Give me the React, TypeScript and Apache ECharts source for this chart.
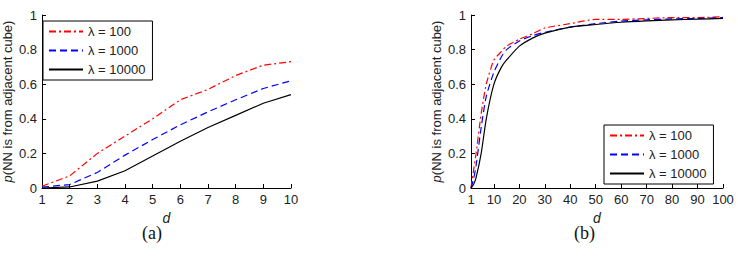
import React, { useEffect, useRef } from "react";
import * as echarts from "echarts";

// Panel (a): d = 1..10
const dA = [1, 2, 3, 4, 5, 6, 7, 8, 9, 10];
const lam100A = [0.01, 0.07, 0.2, 0.3, 0.4, 0.51, 0.57, 0.65, 0.71, 0.73];
const lam1000A = [0.005, 0.02, 0.09, 0.19, 0.28, 0.365, 0.44, 0.51, 0.575, 0.62];
const lam10000A = [0, 0.006, 0.04, 0.1, 0.185, 0.27, 0.35, 0.42, 0.49, 0.54];

// Panel (b): d = 1..100
const dB = [1, 2, 3, 5, 7, 10, 13, 15, 20, 25, 30, 40, 50, 60, 70, 80, 90, 100];
const lam100B = [0, 0.1, 0.2, 0.43, 0.6, 0.74, 0.79, 0.82, 0.86, 0.89, 0.925, 0.95, 0.975, 0.975, 0.98, 0.985, 0.985, 0.99];
const lam1000B = [0, 0.05, 0.13, 0.35, 0.53, 0.67, 0.76, 0.8, 0.85, 0.88, 0.9, 0.93, 0.95, 0.965, 0.972, 0.978, 0.98, 0.985];
const lam10000B = [0, 0.02, 0.06, 0.2, 0.4, 0.6, 0.7, 0.74, 0.82, 0.865, 0.895, 0.93, 0.945, 0.958, 0.966, 0.972, 0.976, 0.98];

const xTicksB = [1, 10, 20, 30, 40, 50, 60, 70, 80, 90, 100];
const seriesNames = ["λ = 100", "λ = 1000", "λ = 10000"];

const FONT = "'Liberation Sans', Arial, sans-serif";
const TEXT = "#222";
const FS = 13;

const styles = [
  { color: "#ff0000", type: [7, 3, 2, 3] as any },
  { color: "#0000ff", type: [7, 4] as any },
  { color: "#000000", type: "solid" as any },
];

function pairs(xs: number[], ys: number[]) {
  return xs.map((x, i) => [x, ys[i]]);
}

export default function App() {
  const ref = useRef<HTMLDivElement>(null);

  useEffect(() => {
    if (!ref.current) return;
    const chart = echarts.init(ref.current, undefined, { renderer: "svg" });

    const axisCommon = {
      axisLine: { show: true, lineStyle: { color: "#000", width: 1 } },
      axisTick: { show: true, inside: true, length: 4, lineStyle: { color: "#000" } },
      splitLine: { show: false },
      axisLabel: { color: TEXT, fontFamily: FONT, fontSize: FS, margin: 5 },
    };

    const yAxisDef = (gridIndex: number) => ({
      type: "value",
      gridIndex,
      min: 0,
      max: 1,
      interval: 0.2,
      ...axisCommon,
      name: "{i|p}(NN is from adjacent cube)",
      nameLocation: "middle",
      nameRotate: 90,
      nameGap: 28,
      nameTextStyle: {
        color: TEXT,
        fontFamily: FONT,
        fontSize: FS,
        rich: {
          i: { fontStyle: "italic", fontFamily: FONT, fontSize: FS, color: TEXT },
        },
      },
    });

    const xName = {
      name: "d",
      nameLocation: "middle",
      nameGap: 20,
      nameTextStyle: { color: TEXT, fontFamily: FONT, fontSize: 14, fontStyle: "italic" },
    };

    const legendDef = (left: number, top: number) => ({
      orient: "vertical",
      left,
      top,
      data: seriesNames,
      itemWidth: 34,
      itemHeight: 12,
      itemGap: 6,
      padding: [4, 7, 4, 5],
      borderColor: "#000",
      borderWidth: 1,
      backgroundColor: "#fff",
      selectedMode: false,
      itemStyle: { opacity: 0 },
      textStyle: { color: TEXT, fontFamily: FONT, fontSize: FS },
    });

    const mk = (name: string, idx: number, data: number[][], grid: number, smooth: number) => ({
      type: "line",
      name,
      xAxisIndex: grid,
      yAxisIndex: grid,
      data,
      showSymbol: false,
      symbol: "none",
      smooth,
      lineStyle: { color: styles[idx].color, type: styles[idx].type, width: 1.2 },
      itemStyle: { color: styles[idx].color },
    });

    chart.setOption({
      animation: false,
      backgroundColor: "#fff",
      grid: [
        { left: 37, top: 15, width: 254, height: 173 },
        { left: 471, top: 15, width: 252, height: 173 },
      ],
      xAxis: [
        {
          type: "value",
          gridIndex: 0,
          min: 1,
          max: 10,
          interval: 1,
          ...axisCommon,
          ...xName,
        },
        {
          type: "value",
          gridIndex: 1,
          min: 1,
          max: 100,
          ...axisCommon,
          axisTick: { ...axisCommon.axisTick, customValues: xTicksB },
          axisLabel: { ...axisCommon.axisLabel, customValues: xTicksB },
          ...xName,
        },
      ],
      yAxis: [yAxisDef(0), yAxisDef(1)],
      legend: [legendDef(43, 21), legendDef(604, 125)],
      series: [
        mk(seriesNames[0], 0, pairs(dA, lam100A), 0, 0),
        mk(seriesNames[1], 1, pairs(dA, lam1000A), 0, 0),
        mk(seriesNames[2], 2, pairs(dA, lam10000A), 0, 0),
        mk(seriesNames[0], 0, pairs(dB, lam100B), 1, 0.2),
        mk(seriesNames[1], 1, pairs(dB, lam1000B), 1, 0.2),
        mk(seriesNames[2], 2, pairs(dB, lam10000B), 1, 0.2),
      ],
      graphic: [
        {
          type: "text",
          left: 142,
          top: 224,
          style: { text: "(a)", font: "18px 'Liberation Serif', 'Times New Roman', serif", fill: "#111" },
        },
        {
          type: "text",
          left: 574,
          top: 224,
          style: { text: "(b)", font: "18px 'Liberation Serif', 'Times New Roman', serif", fill: "#111" },
        },
      ],
    });

    return () => chart.dispose();
  }, []);

  return (
    <div
      ref={ref}
      style={{ position: "fixed", left: 0, top: 0, width: 738, height: 258, background: "#fff" }}
    />
  );
}
